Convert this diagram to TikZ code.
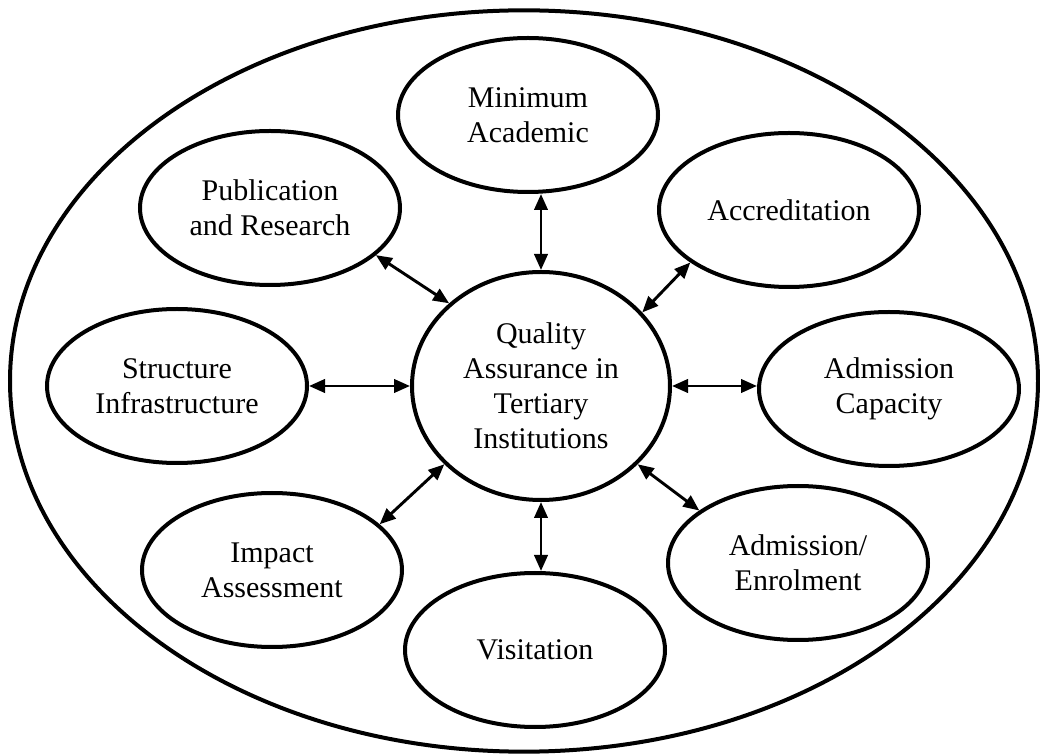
\documentclass[tikz,border=0pt]{standalone}
\usepackage{fontspec}
\setmainfont{Liberation Serif}
\usetikzlibrary{arrows.meta,shapes.geometric}
\begin{document}
\begin{tikzpicture}[x=0.75pt,y=-0.75pt,
  bub/.style={draw, ellipse, line width=3pt, inner sep=0pt, minimum width=195pt, minimum height=115.5pt, align=center, font=\fontsize{22.5}{26.25}\selectfont},
  link/.style={line width=2.2pt, {Triangle[length=12pt,width=10pt]}-{Triangle[length=12pt,width=10pt]}}]
\useasboundingbox (0,0) rectangle (1040,755);
\node[draw, ellipse, line width=3pt, minimum width=771pt, minimum height=556pt, inner sep=0pt] (outer) at (524,381) {};
\node[bub, minimum width=193.5pt, minimum height=171pt] (c) at (541,386) {Quality\\Assurance in\\Tertiary\\Institutions};
\node[bub] (ma) at (528,115) {Minimum\\Academic};
\node[bub] (pub) at (270,208) {Publication\\and Research};
\node[bub] (acc) at (789,210) {Accreditation};
\node[bub] (str) at (177,386) {Structure\\Infrastructure};
\node[bub] (adc) at (889,389) {Admission\\Capacity};
\node[bub] (imp) at (272,570) {Impact\\Assessment};
\node[bub] (enr) at (798,563) {Admission/\\Enrolment};
\node[bub] (vis) at (535,650) {Visitation};
\draw[link] (c.north) -- (c.north |- ma.south);
\draw[link] (c.south) -- (c.south |- vis.north);
\draw[link] (pub.-24.5) -- (c.138.3);
\draw[link] (acc.-152) -- (c.36.4);
\draw[link] (imp.23.9) -- (c.-141.8);
\draw[link] (enr.152.5) -- (c.-39);
\draw[link] (str.east) -- (c.west);
\draw[link] (c.east) -- (c.east -| adc.west);
\end{tikzpicture}
\end{document}
